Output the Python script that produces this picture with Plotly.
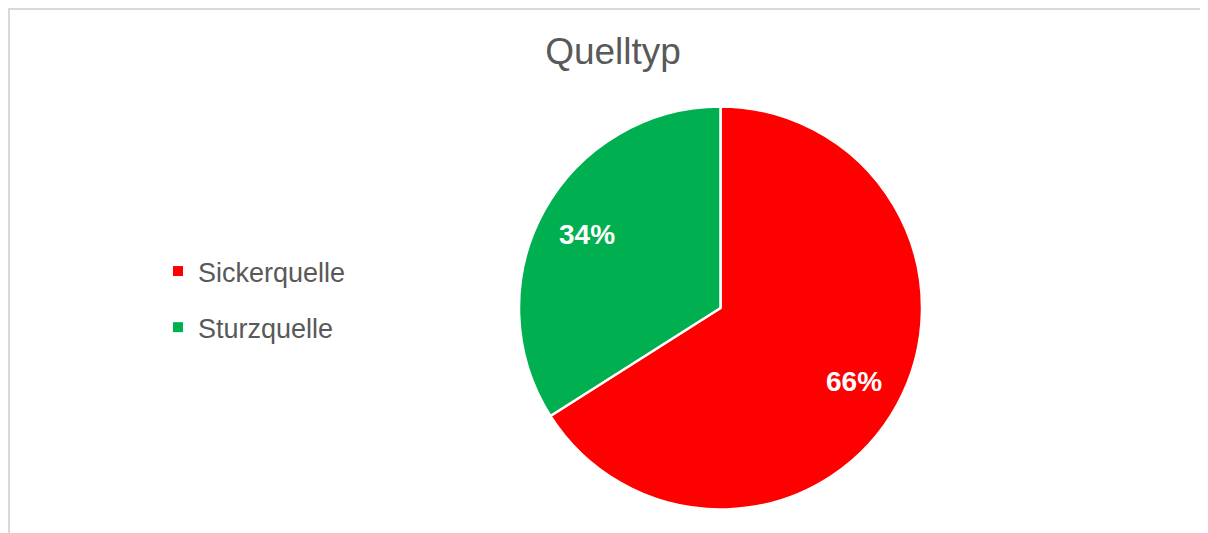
import math
import plotly.graph_objects as go

# data
labels = ["Sickerquelle", "Sturzquelle"]
values = [66, 34]
colors = ["#FF0000", "#00B050"]
title_text = "Quelltyp"

# the page body adds 8px around the figure
W, H = 1200, 525
FONT = "Liberation Sans, Arial, sans-serif"

# pie placement in figure pixels
cx, cy, R = 712.5, 300.0, 201.5

fig = go.Figure()

fig.add_trace(go.Pie(
    labels=labels,
    values=values,
    sort=False,
    direction="clockwise",
    rotation=0,
    marker=dict(colors=colors, line=dict(color="white", width=2.5)),
    textinfo="none",
    domain=dict(x=[(cx - R) / W, (cx + R) / W], y=[1 - (cy + R) / H, 1 - (cy - R) / H]),
    showlegend=False,
    hoverinfo="label+percent",
))

# data labels on the slice bisector, like Excel's best fit
total = sum(values)
start = 0.0
for v in values:
    mid = (start + v / 2) / total * 2 * math.pi
    start += v
    r = 0.755 * R
    fig.add_annotation(
        x=(cx + r * math.sin(mid)) / W, y=1 - (cy - r * math.cos(mid)) / H,
        xref="paper", yref="paper", showarrow=False,
        text=f"<b>{round(v / total * 100)}%</b>",
        font=dict(family=FONT, size=28, color="white"),
        xanchor="center", yanchor="middle",
    )

# legend entries as dummy traces so the spacing can match
for lab, col in zip(labels, colors):
    fig.add_trace(go.Scatter(
        x=[None], y=[None], mode="markers", name=lab, legendgroup=lab,
        marker=dict(symbol="square", size=10, color=col),
    ))

fig.update_layout(
    width=W, height=H,
    margin=dict(l=0, r=0, t=0, b=0),
    paper_bgcolor="white", plot_bgcolor="white",
    title=dict(text=title_text, x=605 / W, xanchor="center", y=1 - 43 / H, yanchor="middle",
               font=dict(family=FONT, size=37, color="#595959")),
    xaxis=dict(visible=False), yaxis=dict(visible=False),
    legend=dict(x=150 / W, xanchor="left", y=1 - 239 / H, yanchor="top",
                font=dict(family=FONT, size=27, color="#595959"),
                tracegroupgap=18, itemwidth=30, bgcolor="rgba(0,0,0,0)"),
)

# chart frame (left and top edges visible)
fig.add_shape(type="path", xref="paper", yref="paper",
              path=f"M {1 / W} 0 L {1 / W} {1 - 1 / H} L 1 {1 - 1 / H}",
              line=dict(color="#D9D9D9", width=2))

fig.write_html("out.html")
